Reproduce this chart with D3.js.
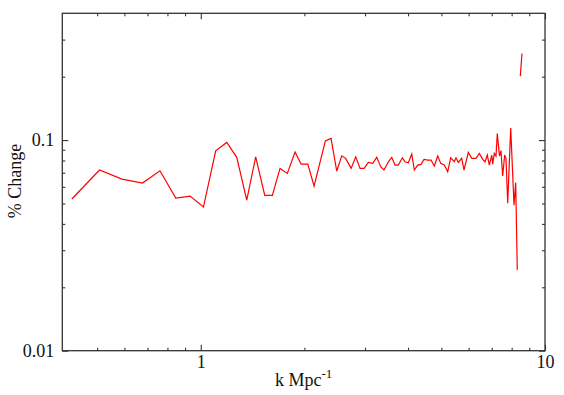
<!DOCTYPE html>
<html>
<head>
<meta charset="utf-8">
<script src="https://cdn.jsdelivr.net/npm/d3@7"></script>
<style>
  body { margin: 0; background: #fff; }
  svg text { font-family: "Liberation Serif", "DejaVu Serif", serif; fill: #111; }
</style>
</head>
<body>
<div id="chart"></div>
<script>
'use strict';

// k (Mpc^-1) and percent change
var kValues = [0.422, 0.508, 0.590, 0.677, 0.761, 0.846, 0.931, 1.018, 1.105, 1.190,
  1.272, 1.360, 1.444, 1.534, 1.614, 1.699, 1.784, 1.879, 1.956, 2.046,
  2.134, 2.301, 2.390, 2.483, 2.568, 2.637, 2.733, 2.820, 2.902, 2.981,
  3.068, 3.159, 3.245, 3.333, 3.407, 3.507, 3.587, 3.667, 3.749, 3.851,
  3.921, 4.009, 4.101, 4.173, 4.268, 4.363, 4.452, 4.564, 4.665, 4.769,
  4.879, 4.978, 5.099, 5.216, 5.322, 5.452, 5.514, 5.600, 5.729, 5.817,
  5.987, 6.125, 6.304, 6.445, 6.592, 6.694, 6.799, 6.890, 7.002, 7.048,
  7.123, 7.205, 7.268, 7.375, 7.449, 7.534, 7.636, 7.703, 7.792, 7.950,
  8.128, 8.220, 8.308, 8.400, 8.477, 8.573];

var pctChange = [0.0525, 0.0721, 0.0653, 0.0625, 0.0715, 0.0530, 0.0542, 0.0481, 0.0890, 0.0975,
  0.0828, 0.0519, 0.0833, 0.0546, 0.0546, 0.0734, 0.0695, 0.0877, 0.0769, 0.0769,
  0.0605, 0.0992, 0.1019, 0.0713, 0.0842, 0.0819, 0.0734, 0.0833, 0.0734, 0.0734,
  0.0784, 0.0775, 0.0828, 0.0747, 0.0721, 0.0789, 0.0828, 0.0761, 0.0761, 0.0824,
  0.0789, 0.0780, 0.0858, 0.0721, 0.0761, 0.0767, 0.0810, 0.0804, 0.0804, 0.0753,
  0.0840, 0.0775, 0.0761, 0.0707, 0.0824, 0.0789, 0.0824, 0.0784, 0.0819, 0.0721,
  0.0874, 0.0819, 0.0819, 0.0865, 0.0810, 0.0789, 0.0849, 0.0761, 0.0849, 0.0769,
  0.0865, 0.0840, 0.1074, 0.0840, 0.0892, 0.0675, 0.0849, 0.0819, 0.0501, 0.1140,
  0.0491, 0.0628, 0.0242, null, 0.2012, 0.2579];

var xMajor = [1, 10];
var xMinor = [0.5, 0.6, 0.7, 0.8, 0.9, 2, 3, 4, 5, 6, 7, 8, 9];
var yMajor = [0.01, 0.1];
var yMinor = [0.02, 0.03, 0.04, 0.05, 0.06, 0.07, 0.08, 0.09, 0.2, 0.3];
var xTickLabels = {1: "1", 10: "10"};
var yTickLabels = {0.01: "0.01", 0.1: "0.1"};

var W = 564, H = 395;
var M = { left: 62.3, right: 19, top: 13.3, bottom: 44.3 };

var svg = d3.select("#chart").append("svg")
  .attr("width", W).attr("height", H);

var x = d3.scaleLog().domain([0.396, 10]).range([M.left, W - M.right]);
var y = d3.scaleLog().domain([0.01, 0.4]).range([H - M.bottom, M.top]);

function styleAxis(g) {
  g.select(".domain").remove();
  g.selectAll("line").attr("stroke", "#333").attr("stroke-width", 1.1);
  g.selectAll("text").style("font-size", "18px").attr("fill", "#111");
}

// bottom
svg.append("g").attr("transform", "translate(0," + y.range()[0] + ")")
  .call(d3.axisBottom(x).tickValues(xMajor).tickSize(-6).tickPadding(5)
    .tickFormat(function(d) { return xTickLabels[d]; }))
  .call(styleAxis);
svg.append("g").attr("transform", "translate(0," + y.range()[0] + ")")
  .call(d3.axisBottom(x).tickValues(xMinor).tickSize(-3).tickFormat(""))
  .call(styleAxis);
// top
svg.append("g").attr("transform", "translate(0," + y.range()[1] + ")")
  .call(d3.axisTop(x).tickValues(xMajor).tickSize(-6).tickFormat(""))
  .call(styleAxis);
svg.append("g").attr("transform", "translate(0," + y.range()[1] + ")")
  .call(d3.axisTop(x).tickValues(xMinor).tickSize(-3).tickFormat(""))
  .call(styleAxis);
// left
svg.append("g").attr("transform", "translate(" + x.range()[0] + ",0)")
  .call(d3.axisLeft(y).tickValues(yMajor).tickSize(-6).tickPadding(8)
    .tickFormat(function(d) { return yTickLabels[d]; }))
  .call(styleAxis);
svg.append("g").attr("transform", "translate(" + x.range()[0] + ",0)")
  .call(d3.axisLeft(y).tickValues(yMinor).tickSize(-3).tickFormat(""))
  .call(styleAxis);
// right
svg.append("g").attr("transform", "translate(" + x.range()[1] + ",0)")
  .call(d3.axisRight(y).tickValues(yMajor).tickSize(-6).tickFormat(""))
  .call(styleAxis);
svg.append("g").attr("transform", "translate(" + x.range()[1] + ",0)")
  .call(d3.axisRight(y).tickValues(yMinor).tickSize(-3).tickFormat(""))
  .call(styleAxis);

// frame
svg.append("rect")
  .attr("x", x.range()[0]).attr("y", y.range()[1])
  .attr("width", x.range()[1] - x.range()[0])
  .attr("height", y.range()[0] - y.range()[1])
  .attr("fill", "none").attr("stroke", "#333").attr("stroke-width", 1.3);

// data line
var data = kValues.map(function(k, i) { return { k: k, v: pctChange[i] }; });
var line = d3.line()
  .defined(function(d) { return d.v != null; })
  .x(function(d) { return x(d.k); })
  .y(function(d) { return y(d.v); });

svg.append("path").datum(data)
  .attr("d", line)
  .attr("fill", "none")
  .attr("stroke", "#ff0000")
  .attr("stroke-width", 1.2)
  .attr("stroke-linejoin", "miter");

// axis titles
var xt = svg.append("text")
  .attr("x", (x.range()[0] + x.range()[1]) / 2)
  .attr("y", 386)
  .attr("text-anchor", "middle")
  .style("font-size", "18px");
xt.append("tspan").text("k Mpc");
xt.append("tspan").attr("dy", -8).style("font-size", "13px").text("-1");

svg.append("text")
  .attr("transform", "translate(21," + 181 + ") rotate(-90)")
  .attr("text-anchor", "middle")
  .style("font-size", "18px")
  .text("% Change");
</script>
</body>
</html>
